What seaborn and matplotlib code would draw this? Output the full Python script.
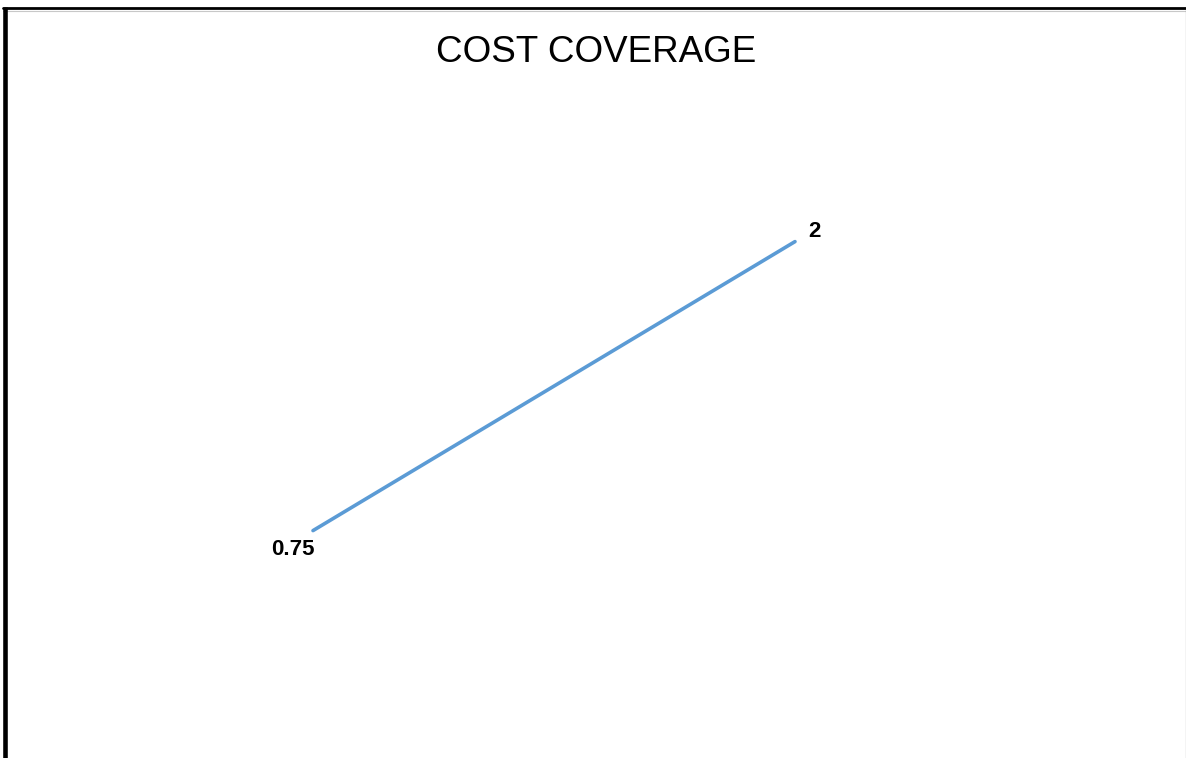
import matplotlib
matplotlib.use("Agg")
import matplotlib.pyplot as plt
from matplotlib.lines import Line2D
import seaborn as sns
import pandas as pd

periods = ["Period 1", "Period 2"]
coverage = [0.75, 2]
value_labels = ["0.75", "2"]
title = "COST COVERAGE"

sns.set_theme(style="white")
plt.rcParams["font.family"] = ["Liberation Sans", "DejaVu Sans"]

W, H = 1186, 758
fig = plt.figure(figsize=(W / 100, H / 100), dpi=100)
fig.patch.set_facecolor("white")

# plot area in pixel terms
left, right, top, bottom = 72, 1036, 126, 704
ax = fig.add_axes([left / W, 1 - bottom / H, (right - left) / W, (bottom - top) / H])

df = pd.DataFrame({"period": periods, "coverage": coverage})
sns.lineplot(data=df, x="period", y="coverage", ax=ax, color="#5B9BD5",
             linewidth=2.6, sort=False)

ax.set_xlim(-0.5, 1.5)
ax.set_ylim(0, 2.5)
ax.axis("off")

offsets = [(-20, -19), (19, 10)]
for i, (v, lab) in enumerate(zip(coverage, value_labels)):
    ax.annotate(lab, (i, v), xytext=offsets[i], textcoords="offset pixels",
                ha="center", va="center", fontsize=16, fontweight="bold",
                color="black")

fig.text(596 / W, 1 - 52 / H, title, ha="center", va="center",
         fontsize=26.5, color="black")

# frame around the chart
fig.add_artist(Line2D([3 / W, 1], [1 - 8 / H, 1 - 8 / H], color="black",
                      linewidth=2.0, transform=fig.transFigure))
fig.add_artist(Line2D([3 / W, 1], [1 - 10.5 / H, 1 - 10.5 / H], color="#c8c8c8",
                      linewidth=0.8, transform=fig.transFigure))
fig.add_artist(Line2D([5 / W, 5 / W], [0, 1 - 7 / H], color="black",
                      linewidth=3.3, transform=fig.transFigure, solid_capstyle="butt"))
fig.add_artist(Line2D([1185.5 / W, 1185.5 / W], [0, 1 - 7 / H], color="#444444",
                      linewidth=0.8, transform=fig.transFigure))

fig.savefig("out.png", dpi=100, facecolor="white")
